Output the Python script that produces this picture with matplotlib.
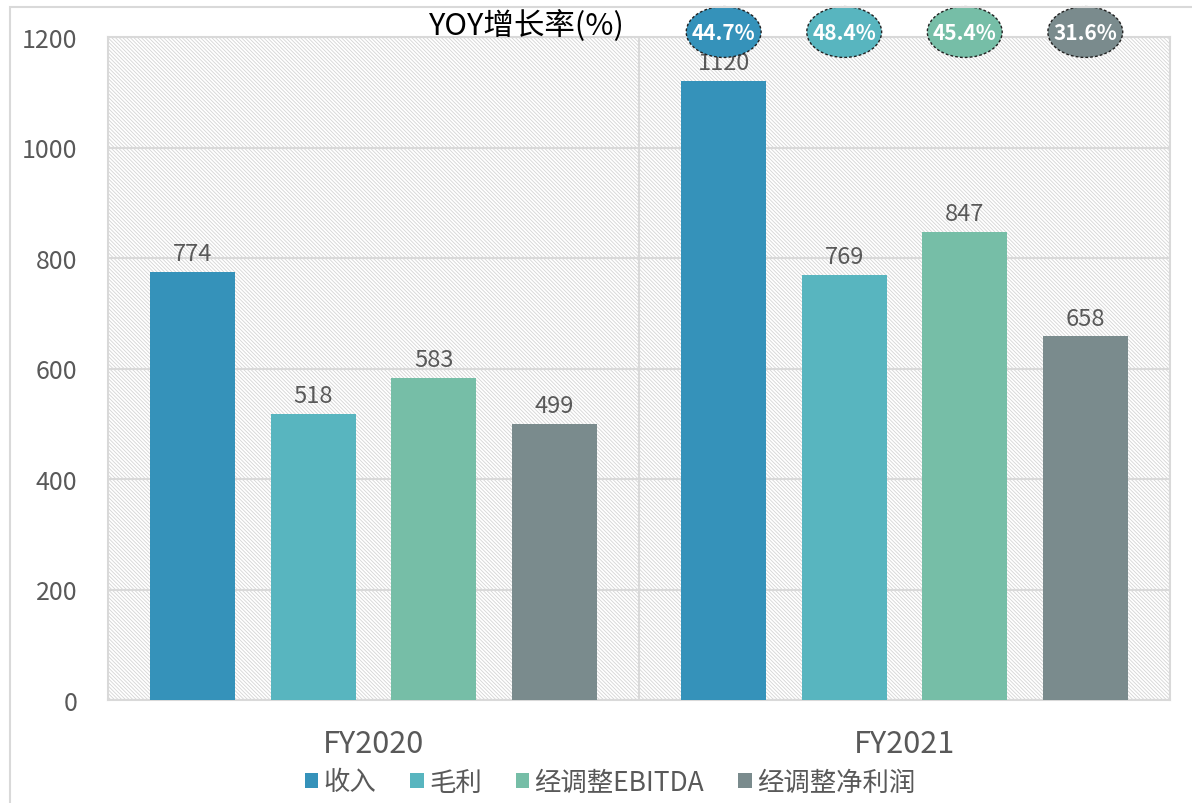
import numpy as np
import matplotlib
matplotlib.use('Agg')
import matplotlib.pyplot as plt
from matplotlib.patches import Ellipse, Rectangle

plt.rcParams['font.family'] = ['Noto Sans CJK SC', 'DejaVu Sans']
plt.rcParams['hatch.linewidth'] = 0.6
plt.rcParams['hatch.color'] = '#d4d4d4'

years = ['FY2020', 'FY2021']
series = ['收入', '毛利', '经调整EBITDA', '经调整净利润']
values = [
    [774, 1120],   # 收入
    [518, 769],    # 毛利
    [583, 847],    # 经调整EBITDA
    [499, 658],    # 经调整净利润
]
yoy = ['44.7%', '48.4%', '45.4%', '31.6%']
colors = ['#3592BA', '#58B5BF', '#76BEA7', '#7A8B8D']

text_color = '#595959'
grid_color = '#d9d9d9'

fig = plt.figure(figsize=(11.92, 8.04), dpi=100)
ax = fig.add_axes([108 / 1192, 1 - 701 / 804, (1170 - 108) / 1192, (701 - 38) / 804])

# frame around the chart
fig.patches.append(Rectangle((10 / 1192, -0.1), 1.2, 1 - 8 / 804 + 0.1, transform=fig.transFigure,
                             fill=False, edgecolor=grid_color, lw=1.5))

# hatched background
ax.add_patch(Rectangle((0, 0), 1, 1, transform=ax.transAxes, facecolor='white',
                       edgecolor='#d4d4d4', hatch='\\\\\\\\\\\\\\\\\\', lw=0, zorder=0))

x = np.arange(len(years))
step = 0.227
width = 0.16

for i, (name, vals, c) in enumerate(zip(series, values, colors)):
    pos = x + (i - 1.5) * step
    bars = ax.bar(pos, vals, width, color=c, label=name, zorder=3)
    for b, v in zip(bars, vals):
        ax.annotate(str(v), (b.get_x() + b.get_width() / 2, v), xytext=(0, 5),
                    textcoords='offset points', ha='center', va='bottom',
                    fontsize=17, color=text_color, zorder=4)
    # yoy bubble above FY2021 bar
    px = pos[1]
    ax.add_patch(Ellipse((px, 1209), 0.141, 92, facecolor=c, edgecolor='#222222',
                         linestyle=(0, (2, 1.5)), lw=1, clip_on=False, zorder=5))
    ax.text(px, 1209, yoy[i], ha='center', va='center', color='white',
            fontsize=15, fontweight='bold', zorder=6, clip_on=False)

ax.text(0.289, 1222, 'YOY增长率(%)', ha='center', va='center', fontsize=22, color='black')

ax.set_xlim(-0.5, 1.5)
ax.set_ylim(0, 1200)
ax.set_yticks(np.arange(0, 1201, 200))
ax.set_xticks(x)
ax.set_xticklabels(years, fontsize=22, color=text_color)
ax.tick_params(axis='y', labelsize=18, labelcolor=text_color, length=0, pad=22)
ax.tick_params(axis='x', length=0, pad=20)

ax.yaxis.grid(True, color=grid_color, lw=1.5, zorder=1)
ax.axvline(0.5, color=grid_color, lw=1.5, zorder=1)
for s in ['left', 'right', 'top', 'bottom']:
    ax.spines[s].set_color(grid_color)
    ax.spines[s].set_linewidth(1.5)

fig.legend(loc='center', bbox_to_anchor=(610 / 1192, 1 - 783 / 804), ncol=4, frameon=False,
           fontsize=19, handlelength=0.5, handleheight=0.5, handletextpad=0.2,
           columnspacing=1.3, labelcolor=text_color)

fig.savefig('out.png', dpi=100)
